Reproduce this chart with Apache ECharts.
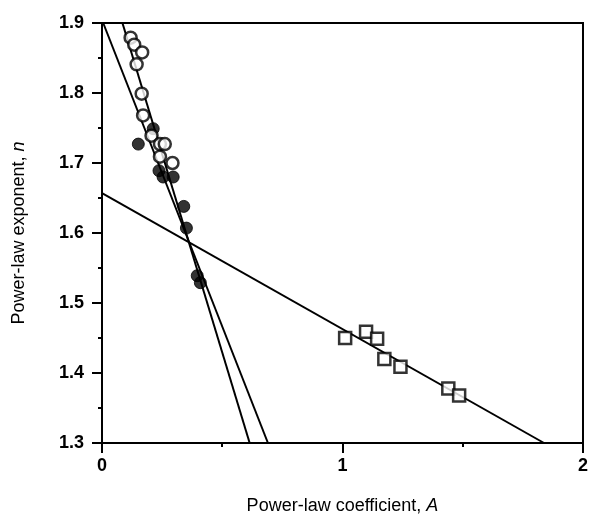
<!DOCTYPE html>
<html>
<head>
<meta charset="utf-8">
<script src="https://cdn.jsdelivr.net/npm/echarts@6/dist/echarts.min.js"></script>
<style>
html,body{margin:0;padding:0;background:#fff;}
#chart{width:591px;height:523px;}
</style>
</head>
<body>
<div id="chart"></div>
<script>
// Data
const openCircles = [[0.119,1.879],[0.134,1.869],[0.167,1.858],[0.144,1.841],[0.165,1.799],[0.171,1.768],[0.206,1.739],[0.241,1.727],[0.261,1.727],[0.241,1.709],[0.293,1.700]];
const filledCircles = [[0.151,1.727],[0.213,1.749],[0.237,1.689],[0.254,1.680],[0.296,1.680],[0.340,1.638],[0.351,1.607],[0.396,1.539],[0.409,1.529]];
const squares = [[1.011,1.450],[1.098,1.459],[1.144,1.449],[1.174,1.420],[1.241,1.409],[1.440,1.378],[1.485,1.368]];
const fitLineA = [[0.085,1.9],[0.614,1.3]];
const fitLineB = [[0.005,1.9],[0.690,1.3]];
const fitLineC = [[0,1.657],[1.838,1.3]];
const xTicks = [0,1,2];
const yTicks = [1.3,1.4,1.5,1.6,1.7,1.8,1.9];

const chart = echarts.init(document.getElementById('chart'), null, {renderer:'canvas'});
const font = 'Liberation Sans, Arial, sans-serif';
const lineSeries = (d) => ({type:'line', data:d, symbol:'none', z:2, lineStyle:{color:'#000', width:2}, silent:true});
const option = {
  animation:false,
  backgroundColor:'#fff',
  grid:{left:102, right:7, top:23, bottom:80, show:true, borderColor:'#000', borderWidth:2},
  xAxis:{
    type:'value', min:xTicks[0], max:xTicks[xTicks.length-1], interval:1,
    splitLine:{show:false},
    axisLine:{lineStyle:{color:'#000', width:2}},
    axisTick:{inside:false, length:10, lineStyle:{color:'#000', width:2}},
    minorTick:{show:true, splitNumber:2, length:4, lineStyle:{color:'#000', width:2}},
    axisLabel:{color:'#000', fontSize:18, fontWeight:'bold', fontFamily:font, margin:14},
    name:'{a|Power-law coefficient, }{i|A}', nameLocation:'middle', nameGap:54,
    nameTextStyle:{rich:{a:{fontSize:18, fontFamily:font, color:'#000'}, i:{fontSize:18, fontFamily:font, fontStyle:'italic', color:'#000'}}}
  },
  yAxis:{
    type:'value', min:yTicks[0], max:yTicks[yTicks.length-1], interval:0.1,
    splitLine:{show:false},
    axisLine:{lineStyle:{color:'#000', width:2}},
    axisTick:{inside:false, length:10, lineStyle:{color:'#000', width:2}},
    minorTick:{show:true, splitNumber:2, length:4, lineStyle:{color:'#000', width:2}},
    axisLabel:{color:'#000', fontSize:18, fontWeight:'bold', fontFamily:font, margin:18, formatter:(v)=>v.toFixed(1)},
    name:'{a|Power-law exponent, }{i|n}', nameLocation:'middle', nameGap:74, nameRotate:90,
    nameTextStyle:{rich:{a:{fontSize:18, fontFamily:font, color:'#000'}, i:{fontSize:18, fontFamily:font, fontStyle:'italic', color:'#000'}}}
  },
  series:[
    lineSeries(fitLineA),
    lineSeries(fitLineB),
    lineSeries(fitLineC),
    {type:'scatter', data:filledCircles, symbol:'circle', symbolSize:12, z:3, itemStyle:{color:'#000', borderColor:'#000', borderWidth:1}},
    {type:'scatter', data:openCircles, symbol:'circle', symbolSize:12, z:4, itemStyle:{color:'#fff', borderColor:'#000', borderWidth:2.5}},
    {type:'scatter', data:squares, symbol:'rect', symbolSize:12, z:4, itemStyle:{color:'#fff', borderColor:'#000', borderWidth:2.5}}
  ]
};
chart.setOption(option);
</script>
</body>
</html>
